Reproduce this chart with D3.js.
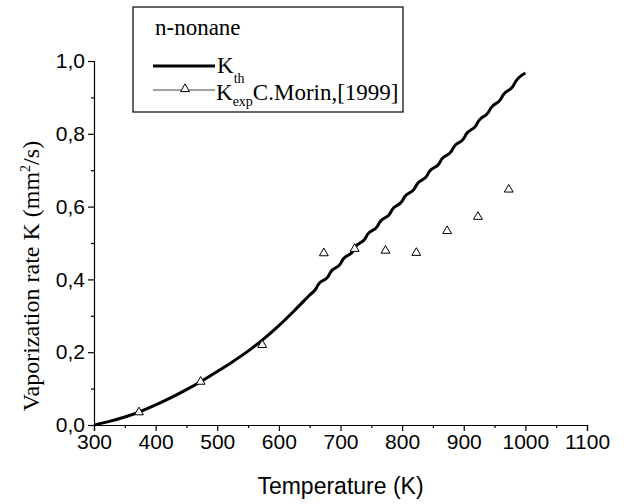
<!DOCTYPE html>
<html>
<head>
<meta charset="utf-8">
<script src="https://cdn.jsdelivr.net/npm/d3@7/dist/d3.min.js"></script>
<style>
  body { margin: 0; background: #fff; }
  svg { display: block; }
</style>
</head>
<body>
<div id="chart"></div>
<script>
// theoretical vaporization rate, n-nonane (upper part is stair-stepped)
const thTemp = [300, 325, 350, 375, 400, 425, 450, 475, 500, 525, 550, 575, 600, 625, 650,
  660, 664, 680, 684, 700, 704, 720, 724, 740, 744, 760, 764, 780, 784, 800, 804,
  820, 824, 840, 844, 860, 864, 880, 884, 900, 904, 920, 924, 940, 944, 960, 964, 980, 984, 1000];
const thRate = [0.000, 0.010, 0.022, 0.037, 0.055, 0.075, 0.097, 0.121, 0.147, 0.174, 0.203, 0.236, 0.273, 0.314, 0.357,
  0.374, 0.386, 0.408, 0.420, 0.443, 0.455, 0.477, 0.489, 0.512, 0.524, 0.546, 0.558, 0.580, 0.592, 0.615, 0.627,
  0.649, 0.661, 0.684, 0.696, 0.718, 0.730, 0.752, 0.764, 0.787, 0.799, 0.823, 0.835, 0.859, 0.871, 0.895, 0.907, 0.931, 0.943, 0.967];

// experimental points, C.Morin 1999
const expTemp = [373, 473, 573, 673, 723, 773, 823, 873, 923, 973];
const expRate = [0.035, 0.119, 0.220, 0.472, 0.484, 0.479, 0.473, 0.533, 0.572, 0.647];

const xMajor = [300, 400, 500, 600, 700, 800, 900, 1000, 1100];
const xMinor = [350, 450, 550, 650, 750, 850, 950, 1050];
const yMajor = [0, 0.2, 0.4, 0.6, 0.8, 1.0];
const yMinor = [0.1, 0.3, 0.5, 0.7, 0.9];

const W = 630, H = 504;
const margin = { left: 94, right: 43, top: 61, bottom: 79 };
const sans = 'Liberation Sans, Arial, sans-serif';
const serif = 'Liberation Serif, Times New Roman, serif';

const svg = d3.select('#chart').append('svg')
  .attr('width', W)
  .attr('height', H);

const x = d3.scaleLinear().domain([300, 1100]).range([margin.left, W - margin.right]);
const y = d3.scaleLinear().domain([0, 1]).range([H - margin.bottom, margin.top]);

const commaFmt = d => d3.format('.1f')(d).replace('.', ',');

// x axis
svg.append('g')
  .attr('transform', `translate(0, ${y(0)})`)
  .call(d3.axisBottom(x).tickValues(xMajor).tickSize(6).tickPadding(3).tickFormat(d3.format('d')));
svg.append('g')
  .attr('transform', `translate(0, ${y(0)})`)
  .call(d3.axisBottom(x).tickValues(xMinor).tickSize(3).tickFormat(''))
  .select('.domain').remove();

// y axis
svg.append('g')
  .attr('transform', `translate(${x(300)}, 0)`)
  .call(d3.axisLeft(y).tickValues(yMajor).tickSize(6).tickPadding(3).tickFormat(commaFmt));
svg.append('g')
  .attr('transform', `translate(${x(300)}, 0)`)
  .call(d3.axisLeft(y).tickValues(yMinor).tickSize(3).tickFormat(''))
  .select('.domain').remove();

svg.selectAll('.domain').attr('stroke', '#000').attr('stroke-width', 1.2);
svg.selectAll('.tick line').attr('stroke', '#000').attr('stroke-width', 1.2);
svg.selectAll('.tick text')
  .attr('fill', '#000')
  .style('font-family', sans)
  .style('font-size', '21px');

// axis titles
svg.append('text')
  .attr('x', (x(300) + x(1100)) / 2)
  .attr('y', 494)
  .attr('text-anchor', 'middle')
  .style('font-family', sans)
  .style('font-size', '23px')
  .text('Temperature (K)');

const yTitle = svg.append('text')
  .attr('transform', 'translate(39, 276) rotate(-90)')
  .attr('text-anchor', 'middle')
  .style('font-family', serif)
  .style('font-size', '24px');
yTitle.append('tspan').text('Vaporization rate K (mm');
yTitle.append('tspan').attr('dy', -9).style('font-size', '14px').text('2');
yTitle.append('tspan').attr('dy', 9).text('/s)');

// theoretical curve
const line = d3.line()
  .x((d, i) => x(thTemp[i]))
  .y(d => y(d))
  .curve(d3.curveMonotoneX);
svg.append('path')
  .datum(thRate)
  .attr('d', line)
  .attr('fill', 'none')
  .attr('stroke', '#000')
  .attr('stroke-width', 3)
  .attr('stroke-linejoin', 'round');

// experimental triangles
const tri = d3.symbol().type(d3.symbolTriangle).size(34);
svg.selectAll('.exp')
  .data(expRate)
  .enter().append('path')
  .attr('class', 'exp')
  .attr('d', tri)
  .attr('transform', (d, i) => `translate(${x(expTemp[i])}, ${y(d)})`)
  .attr('fill', '#fff')
  .attr('stroke', '#000')
  .attr('stroke-width', 1);

// legend
const legend = svg.append('g');
legend.append('rect')
  .attr('x', 133).attr('y', 7)
  .attr('width', 270).attr('height', 105)
  .attr('fill', '#fff')
  .attr('stroke', '#000')
  .attr('stroke-width', 1.2);

legend.append('text')
  .attr('x', 155).attr('y', 35)
  .style('font-family', serif)
  .style('font-size', '23px')
  .text('n-nonane');

legend.append('line')
  .attr('x1', 153).attr('x2', 215)
  .attr('y1', 66).attr('y2', 66)
  .attr('stroke', '#000').attr('stroke-width', 3);
const kth = legend.append('text')
  .attr('x', 217).attr('y', 73)
  .style('font-family', serif)
  .style('font-size', '23px');
kth.append('tspan').text('K');
kth.append('tspan').attr('dy', 10).style('font-size', '14px').text('th');

legend.append('line')
  .attr('x1', 153).attr('x2', 215)
  .attr('y1', 90).attr('y2', 90)
  .attr('stroke', '#444').attr('stroke-width', 1);
legend.append('path')
  .attr('d', tri)
  .attr('transform', 'translate(185, 89)')
  .attr('fill', '#fff')
  .attr('stroke', '#000')
  .attr('stroke-width', 1);
const kexp = legend.append('text')
  .attr('x', 216).attr('y', 100)
  .style('font-family', serif)
  .style('font-size', '23px');
kexp.append('tspan').text('K');
kexp.append('tspan').attr('dy', 6).style('font-size', '14px').text('exp');
kexp.append('tspan').attr('dy', -6).text('C.Morin,[1999]');
</script>
</body>
</html>
